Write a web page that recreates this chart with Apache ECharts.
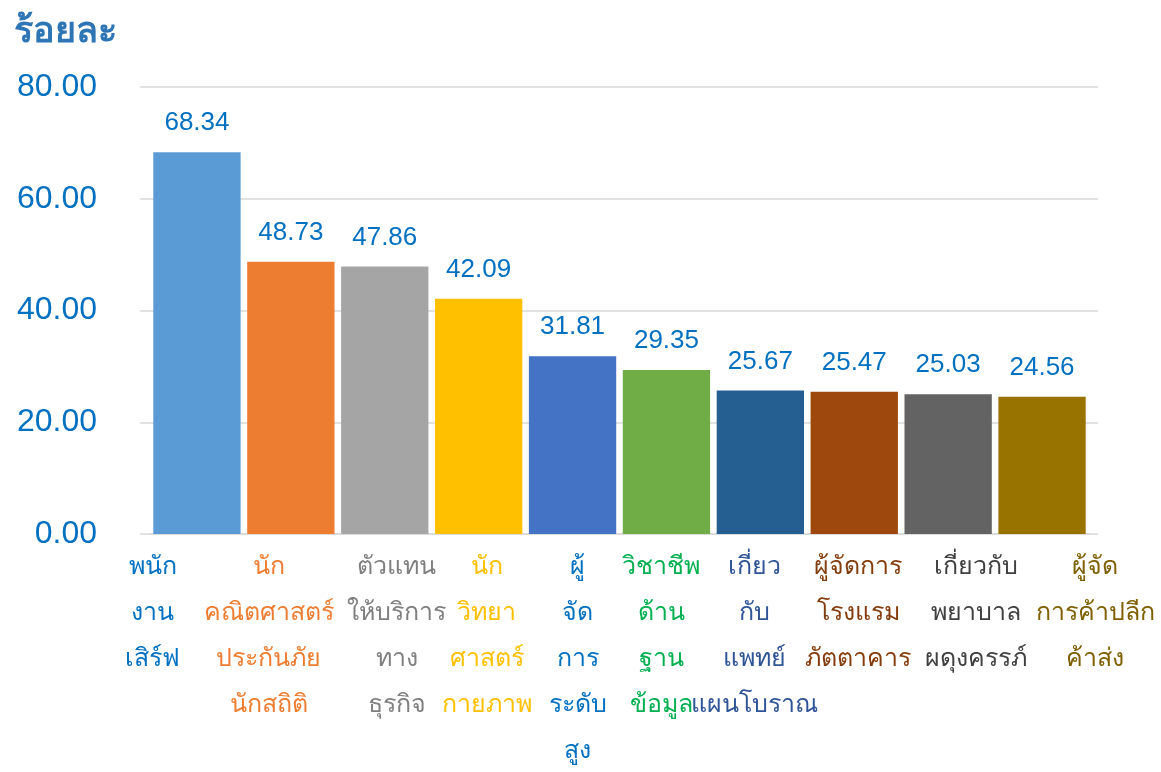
<!DOCTYPE html>
<html><head><meta charset="utf-8">
<script src="https://cdn.jsdelivr.net/npm/echarts@6/dist/echarts.min.js"></script>
<style>html,body{margin:0;padding:0;background:#fff}#c{width:1161px;height:772px}</style>
</head><body><div id="c"></div>
<script>
const categories = [
  'พนัก\nงาน\nเสิร์ฟ',
  'นัก\nคณิตศาสตร์\nประกันภัย\nนักสถิติ',
  'ตัวแทน\nให้บริการ\nทาง\nธุรกิจ',
  'นัก\nวิทยา\nศาสตร์\nกายภาพ',
  'ผู้\nจัด\nการ\nระดับ\nสูง',
  'วิชาชีพ\nด้าน\nฐาน\nข้อมูล',
  'เกี่ยว\nกับ\nแพทย์\nแผนโบราณ',
  'ผู้จัดการ\nโรงแรม\nภัตตาคาร',
  'เกี่ยวกับ\nพยาบาล\nผดุงครรภ์',
  'ผู้จัด\nการค้าปลีก\nค้าส่ง'
];
const values = [68.34, 48.73, 47.86, 42.09, 31.81, 29.35, 25.67, 25.47, 25.03, 24.56];
const yTicks = [0, 20, 40, 60, 80];

// styles
const barColors = ['#5B9BD5','#ED7D31','#A5A5A5','#FFC000','#4472C4','#70AD47','#255E91','#9E480E','#636363','#997300'];
const labelColors = ['#0070C0','#ED7D31','#7F7F7F','#FFC000','#0070C0','#00B050','#2F5597','#843C0C','#404040','#7F6000'];
const labelShift = [-44, -22, 12, 8, 5, -5, -6, 4, 28, 53];

const chart = echarts.init(document.getElementById('c'));
const rich = {};
labelColors.forEach((c, i) => {
  const d = labelShift[i];
  rich['c' + i] = { color: c, fontSize: 25, lineHeight: 46,
    padding: d >= 0 ? [0, 0, 0, 2 * d] : [0, -2 * d, 0, 0] };
});

chart.setOption({
  backgroundColor: '#fff',
  title: { text: 'ร้อยละ', left: 9, top: 9, textStyle: { color: '#2E75B6', fontSize: 36, fontWeight: 'bold' } },
  grid: [
    { left: 140, right: 63, top: 87, bottom: 238 },
    { left: 150, right: 72, top: 87, bottom: 238 }
  ],
  xAxis: [
    { type: 'category', gridIndex: 0, data: categories, show: false },
    {
      type: 'category', gridIndex: 1, data: categories,
      axisLine: { lineStyle: { color: '#D9D9D9', width: 1.5 } },
      axisTick: { show: false },
      axisLabel: {
        interval: 0, margin: 10,
        formatter: (v, i) => v.split('\n').map(s => '{c' + i + '|' + s + '}').join('\n'),
        rich: rich
      }
    }
  ],
  yAxis: [
    {
      type: 'value', gridIndex: 0, min: yTicks[0], max: yTicks[yTicks.length - 1], interval: 20,
      axisLine: { show: false }, axisTick: { show: false },
      splitLine: { lineStyle: { color: '#D9D9D9', width: 1.5 } },
      axisLabel: { color: '#0070C0', fontSize: 32, margin: 43, formatter: v => v.toFixed(2) }
    },
    {
      type: 'value', gridIndex: 1, min: yTicks[0], max: yTicks[yTicks.length - 1], interval: 20,
      show: false, splitLine: { show: false }
    }
  ],
  series: [{
    type: 'bar', xAxisIndex: 1, yAxisIndex: 1,
    data: values.map((v, i) => ({ value: v, itemStyle: { color: barColors[i] } })),
    barCategoryGap: '7%',
    label: { show: true, position: 'top', distance: 16, color: '#0070C0', fontSize: 26, formatter: p => p.value.toFixed(2) }
  }]
});
</script></body></html>
